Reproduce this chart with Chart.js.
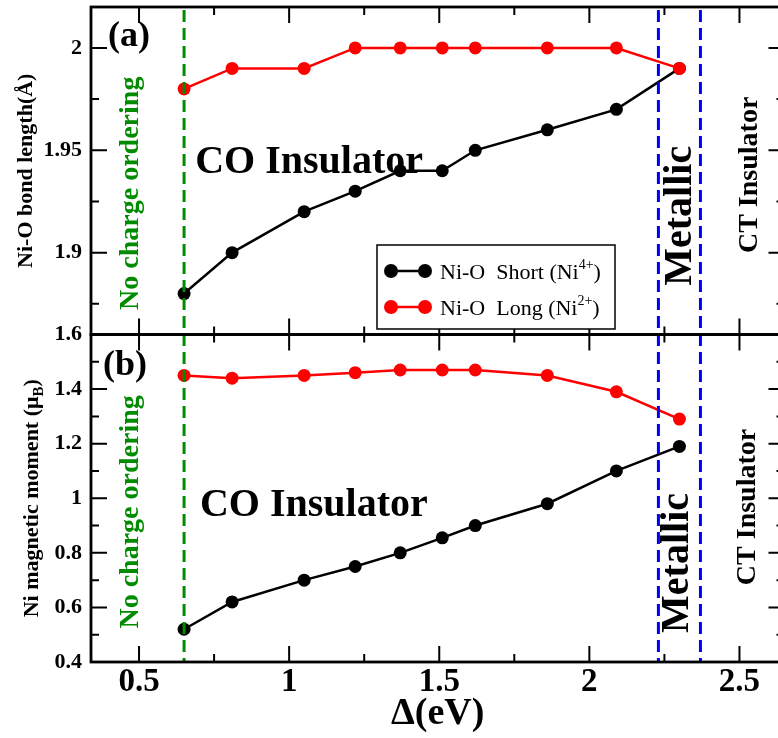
<!DOCTYPE html>
<html>
<head>
<meta charset="utf-8">
<title>Ni-O bond length and Ni moment vs charge-transfer energy</title>
<script src="https://cdn.jsdelivr.net/npm/chart.js@4.4.1/dist/chart.umd.min.js"></script>
<style>
  html, body { margin: 0; padding: 0; background: #fff; }
  #wrap { width: 778px; height: 738px; overflow: hidden; }
</style>
</head>
<body>
<div id="wrap"><canvas id="chart" width="791" height="738"></canvas></div>
<script>
// charge-transfer energy Δ (eV)
const delta = [0.65, 0.81, 1.05, 1.22, 1.37, 1.51, 1.62, 1.86, 2.09, 2.30];

// (a) Ni-O bond lengths (Å)
const bondShort = [1.88, 1.90, 1.92, 1.93, 1.94, 1.94, 1.95, 1.96, 1.97, 1.99];
const bondLong  = [1.98, 1.99, 1.99, 2.00, 2.00, 2.00, 2.00, 2.00, 2.00, 1.99];

// (b) Ni magnetic moments (μB)
const momentShort = [0.52, 0.62, 0.70, 0.75, 0.80, 0.855, 0.90, 0.98, 1.10, 1.19];
const momentLong  = [1.45, 1.44, 1.45, 1.46, 1.47, 1.47, 1.47, 1.45, 1.39, 1.29];

// tick labels
const xTicks = [0.5, 1, 1.5, 2, 2.5];
const bondTicks = [1.9, 1.95, 2];
const momentTicks = [0.4, 0.6, 0.8, 1, 1.2, 1.4, 1.6];

// phase boundaries (eV)
const noOrderEdge = 0.65;
const metallicEdges = [2.23, 2.37];

const SERIF = '"Liberation Serif", "Times New Roman", serif';
const SHORT_COLOR = '#000000';
const LONG_COLOR = '#ff0000';
const GREEN = '#008b00';
const BLUE = '#0000ff';

// region labels, placed in data coordinates
const notes = [
  { text: '(a)', x: 0.397, y: 2.001, axis: 'yTop', size: 36 },
  { text: '(b)', x: 0.38, y: 1.452, axis: 'yBot', size: 36 },
  { text: 'CO Insulator', x: 0.687, y: 1.939, axis: 'yTop', size: 40 },
  { text: 'CO Insulator', x: 0.703, y: 0.935, axis: 'yBot', size: 40 },
  { text: 'No charge ordering', x: 0.498, y: 1.929, axis: 'yTop', size: 28, color: GREEN, vertical: true },
  { text: 'No charge ordering', x: 0.498, y: 0.95, axis: 'yBot', size: 28, color: GREEN, vertical: true },
  { text: 'Metallic', x: 2.337, y: 1.918, axis: 'yTop', size: 40, vertical: true },
  { text: 'Metallic', x: 2.33, y: 0.763, axis: 'yBot', size: 40, vertical: true },
  { text: 'CT Insulator', x: 2.557, y: 1.938, axis: 'yTop', size: 28, vertical: true },
  { text: 'CT Insulator', x: 2.553, y: 0.968, axis: 'yBot', size: 28, vertical: true }
];

const legendRows = [
  { color: SHORT_COLOR, text: 'Ni-O  Short (Ni', sup: '4+' },
  { color: LONG_COLOR, text: 'Ni-O  Long (Ni', sup: '2+' }
];

function points(ys) {
  return delta.map((x, i) => ({ x, y: ys[i] }));
}

function series(label, ys, color, axis) {
  return {
    label,
    data: points(ys),
    yAxisID: axis,
    borderColor: color,
    backgroundColor: color,
    borderWidth: 2.5,
    pointRadius: 6.5,
    pointBorderWidth: 0,
    pointHoverRadius: 6.5,
    tension: 0
  };
}

// minor ticks halfway between the majors, kept inside [min, max]
function minors(ticks, min, max) {
  const step = ticks[1] - ticks[0];
  const out = [];
  for (let v = ticks[0] - step / 2; v <= max + 1e-9; v += step) {
    if (v >= min - 1e-9) out.push(v);
  }
  return out;
}

function yAxis(min, max, ticks, weight) {
  return {
    type: 'linear',
    position: 'left',
    stack: 'panels',
    stackWeight: 1,
    weight,
    min,
    max,
    afterBuildTicks: s => { s.ticks = ticks.map(value => ({ value })); },
    afterFit: s => {
      s.width = 91;
      s.paddingTop = 0;
      s.paddingBottom = 0;
    },
    grid: { display: false, drawTicks: false },
    border: { display: false },
    ticks: {
      padding: 9,
      color: '#000',
      font: { family: SERIF, size: 22, weight: 'bold' },
      callback: v => String(+v.toFixed(2))
    }
  };
}

function drawText(ctx, text, px, py, size, color, vertical, align) {
  ctx.save();
  ctx.translate(px, py);
  if (vertical) ctx.rotate(-Math.PI / 2);
  ctx.font = `bold ${size}px ${SERIF}`;
  ctx.fillStyle = color || '#000';
  ctx.textAlign = align || (vertical ? 'center' : 'left');
  ctx.textBaseline = 'alphabetic';
  ctx.fillText(text, 0, 0);
  ctx.restore();
}

const decorations = {
  id: 'decorations',
  afterDatasetsDraw(chart) {
    const { ctx, chartArea: a, scales } = chart;
    const { x, yTop, yBot } = scales;
    ctx.save();

    // dashed phase boundaries across both panels
    ctx.lineWidth = 3;
    ctx.setLineDash([12, 6]);
    const vline = (v, color) => {
      const px = x.getPixelForValue(v);
      ctx.strokeStyle = color;
      ctx.beginPath();
      ctx.moveTo(px, a.top + 3);
      ctx.lineTo(px, a.bottom);
      ctx.stroke();
    };
    vline(noOrderEdge, GREEN);
    metallicEdges.forEach(v => vline(v, BLUE));
    ctx.setLineDash([]);

    // panel frames with inward ticks
    const xMinor = minors(xTicks, x.min, x.max);
    [[yTop, bondTicks], [yBot, momentTicks]].forEach(([ys, majors]) => {
      ctx.strokeStyle = '#000';
      ctx.lineWidth = 2.8;
      ctx.strokeRect(a.left, ys.top, a.right - a.left, ys.bottom - ys.top);

      ctx.lineWidth = 2;
      ctx.beginPath();
      const xTick = (v, len) => {
        const px = x.getPixelForValue(v);
        ctx.moveTo(px, ys.top); ctx.lineTo(px, ys.top + len);
        ctx.moveTo(px, ys.bottom); ctx.lineTo(px, ys.bottom - len);
      };
      const yTick = (v, len) => {
        const py = ys.getPixelForValue(v);
        ctx.moveTo(a.left, py); ctx.lineTo(a.left + len, py);
        ctx.moveTo(a.right, py); ctx.lineTo(a.right - len, py);
      };
      xTicks.forEach(v => xTick(v, 16));
      xMinor.forEach(v => xTick(v, 8));
      majors.forEach(v => yTick(v, 16));
      minors(majors, ys.min, ys.max).forEach(v => yTick(v, 8));
      ctx.stroke();
    });

    // region labels
    notes.forEach(n => {
      const px = x.getPixelForValue(n.x);
      const py = scales[n.axis].getPixelForValue(n.y);
      drawText(ctx, n.text, px, py, n.size, n.color, n.vertical);
    });

    // y axis titles
    drawText(ctx, 'Ni-O bond length(Å)', 32, (yTop.top + yTop.bottom) / 2, 22, '#000', true);
    ctx.save();
    ctx.translate(38, (yBot.top + yBot.bottom) / 2);
    ctx.rotate(-Math.PI / 2);
    ctx.fillStyle = '#000';
    ctx.textBaseline = 'alphabetic';
    const main = 'Ni magnetic moment (μ';
    ctx.font = `bold 22px ${SERIF}`;
    const wMain = ctx.measureText(main).width;
    const wClose = ctx.measureText(')').width;
    ctx.font = `bold 15px ${SERIF}`;
    const wSub = ctx.measureText('B').width;
    let cx = -(wMain + wSub + wClose) / 2;
    ctx.font = `bold 22px ${SERIF}`;
    ctx.fillText(main, cx, 0);
    cx += wMain;
    ctx.font = `bold 15px ${SERIF}`;
    ctx.fillText('B', cx, 5);
    cx += wSub;
    ctx.font = `bold 22px ${SERIF}`;
    ctx.fillText(')', cx, 0);
    ctx.restore();

    // legend in panel (a)
    const lx = a.left + 286;
    const ly = yTop.top + 238;
    ctx.fillStyle = '#fff';
    ctx.fillRect(lx, ly, 238, 84);
    ctx.strokeStyle = '#000';
    ctx.lineWidth = 1.5;
    ctx.strokeRect(lx, ly, 238, 84);
    legendRows.forEach((row, i) => {
      const cy = ly + 26 + i * 36;
      ctx.strokeStyle = row.color;
      ctx.fillStyle = row.color;
      ctx.lineWidth = 2.5;
      ctx.beginPath();
      ctx.moveTo(lx + 14, cy); ctx.lineTo(lx + 48, cy);
      ctx.stroke();
      [lx + 14, lx + 48].forEach(mx => {
        ctx.beginPath();
        ctx.arc(mx, cy, 7, 0, Math.PI * 2);
        ctx.fill();
      });
      ctx.fillStyle = '#000';
      ctx.textAlign = 'left';
      ctx.textBaseline = 'alphabetic';
      ctx.font = `22px ${SERIF}`;
      let tx = lx + 63;
      ctx.fillText(row.text, tx, cy + 8);
      tx += ctx.measureText(row.text).width;
      ctx.font = `14px ${SERIF}`;
      ctx.fillText(row.sup, tx, cy - 2);
      tx += ctx.measureText(row.sup).width;
      ctx.font = `22px ${SERIF}`;
      ctx.fillText(')', tx, cy + 8);
    });

    ctx.restore();
  }
};

const ctx = document.getElementById('chart').getContext('2d');
const chart = new Chart(ctx, {
  type: 'line',
  data: {
    datasets: [
      series('Ni-O Long', bondLong, LONG_COLOR, 'yTop'),
      series('Ni-O Short', bondShort, SHORT_COLOR, 'yTop'),
      series('Ni-O Long', momentLong, LONG_COLOR, 'yBot'),
      series('Ni-O Short', momentShort, SHORT_COLOR, 'yBot')
    ]
  },
  options: {
    responsive: false,
    devicePixelRatio: 1,
    animation: false,
    events: [],
    layout: { padding: { top: 7, left: 0, right: 0, bottom: 0 } },
    plugins: { legend: { display: false }, tooltip: { enabled: false } },
    scales: {
      x: {
        type: 'linear',
        position: 'bottom',
        min: 0.34,
        max: 2.65,
        afterBuildTicks: s => { s.ticks = xTicks.map(value => ({ value })); },
        afterFit: s => {
          s.height = 76;
          s.paddingLeft = 0;
          s.paddingRight = 0;
        },
        grid: { display: false, drawTicks: false },
        border: { display: false },
        ticks: {
          padding: 1,
          maxRotation: 0,
          autoSkip: false,
          color: '#000',
          font: { family: SERIF, size: 33, weight: 'bold' },
          callback: v => String(v)
        },
        title: {
          display: true,
          text: 'Δ(eV)',
          color: '#000',
          font: { family: SERIF, size: 38, weight: 'bold' },
          padding: { top: 0, bottom: 1 }
        }
      },
      yBot: yAxis(0.4, 1.6, momentTicks, 0),
      yTop: yAxis(1.86, 2.02, bondTicks, 1)
    }
  },
  plugins: [decorations]
});
</script>
</body>
</html>
